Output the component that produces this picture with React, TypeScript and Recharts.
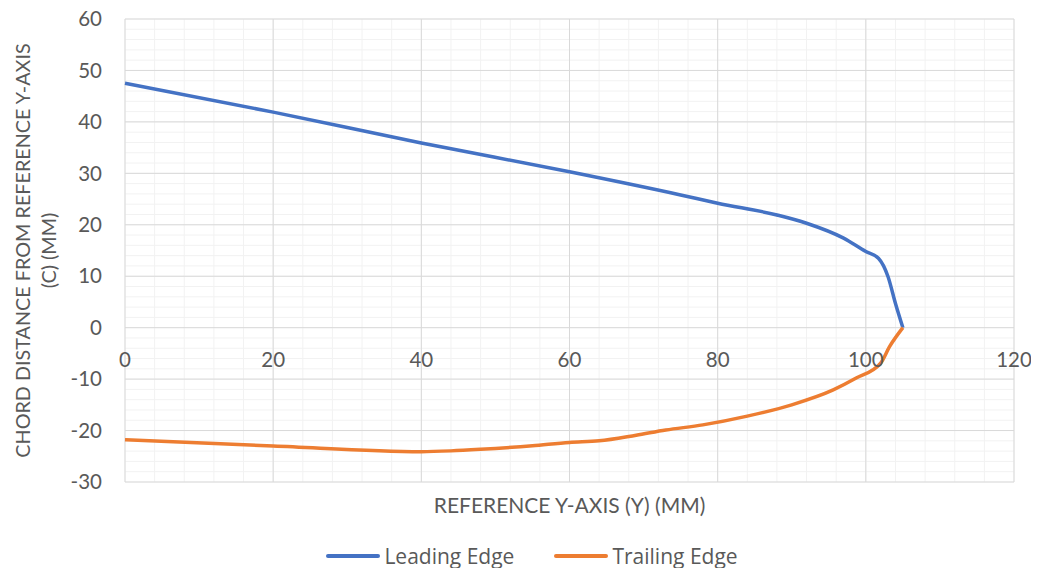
import React from "react";
import {
  LineChart,
  Line,
  XAxis,
  YAxis,
  CartesianGrid,
  Legend,
} from "recharts";

// Blade planform: chord position vs. span position (mm)
const leadingX = [0, 20, 40, 60, 75, 80, 88, 92, 97, 100, 101.7, 103, 104, 105];
const leadingY = [47.5, 41.9, 35.9, 30.3, 25.8, 24.2, 21.9, 20.3, 17.4, 14.8, 13.5, 9.9, 4.7, 0];

const trailingX = [0, 20, 40, 44, 48, 55, 60, 64, 69, 73, 78, 84, 90, 95.6, 98.7, 102, 103.2, 105];
const trailingY = [-21.8, -23.0, -24.1, -23.95, -23.65, -22.95, -22.3, -22.0, -20.9, -19.9, -18.9, -17.2, -15.0, -12.1, -9.8, -6.9, -3.7, 0];

const xTicks = [0, 20, 40, 60, 80, 100, 120];
const yTicks = [-30, -20, -10, 0, 10, 20, 30, 40, 50, 60];
const xMinor = Array.from({ length: 31 }, (_, i) => i * 4);
const yMinor = Array.from({ length: 46 }, (_, i) => -30 + i * 2);

const X_DOMAIN: [number, number] = [0, 120];
const Y_DOMAIN: [number, number] = [-30, 60];

const W = 1039;
const H = 576;
const MARGIN = { top: 19, right: 25, bottom: 0, left: 0 };
const LEGEND_H = 40;
const XAXIS_H = 54;
const PLOT_H = H - MARGIN.top - MARGIN.bottom - LEGEND_H - XAXIS_H;

const FONT = "Lato, 'Open Sans', sans-serif";
const LEGEND_FONT = "'Open Sans', Lato, sans-serif";
const TEXT = "#595959";
const FS = 20.5;

const leading = leadingX.map((x, i) => ({ x, y: leadingY[i] }));
const trailing = trailingX.map((x, i) => ({ x, y: trailingY[i] }));

const series = [
  { name: "Leading Edge", data: leading, color: "#4472C4" },
  { name: "Trailing Edge", data: trailing, color: "#ED7D31" },
];

// x tick labels sit just under the y = 0 line instead of the plot bottom
const zeroShift = (PLOT_H * (0 - Y_DOMAIN[0])) / (Y_DOMAIN[1] - Y_DOMAIN[0]);

function XTick(props: any) {
  const { x, y, payload } = props;
  return (
    <text
      x={x}
      y={y - zeroShift + 31}
      textAnchor="middle"
      fill={TEXT}
      fontSize={FS}
      fontFamily={FONT}
    >
      {payload.value}
    </text>
  );
}

function YTitle(props: any) {
  const { viewBox } = props;
  const cy = viewBox.y + viewBox.height / 2;
  return (
    <g fill={TEXT} fontSize={19.8} fontFamily={FONT} textAnchor="middle">
      <text transform={`translate(30, ${cy}) rotate(-90)`}>
        CHORD DISTANCE FROM REFERENCE Y-AXIS
      </text>
      <text transform={`translate(56, ${cy}) rotate(-90)`}>(C) (MM)</text>
    </g>
  );
}

function LegendBox() {
  return (
    <div
      style={{
        height: LEGEND_H,
        display: "flex",
        alignItems: "center",
        justifyContent: "center",
        gap: 40,
        paddingLeft: 50,
        fontFamily: LEGEND_FONT,
        fontSize: 21,
        color: TEXT,
      }}
    >
      {series.map((s) => (
        <div key={s.name} style={{ display: "flex", alignItems: "center" }}>
          <span
            style={{
              display: "inline-block",
              width: 54,
              height: 3.5,
              borderRadius: 2,
              background: s.color,
              marginRight: 4,
            }}
          />
          <span>{s.name}</span>
        </div>
      ))}
    </div>
  );
}

export default function App() {
  return (
    <div style={{ margin: -8, width: W, height: H, background: "#fff" }}>
      <LineChart width={W} height={H} margin={MARGIN}>
        <CartesianGrid
          horizontalValues={yMinor}
          verticalValues={xMinor}
          stroke="#f2f2f2"
          strokeWidth={1}
        />
        <CartesianGrid
          horizontalValues={yTicks}
          verticalValues={xTicks}
          stroke="#d9d9d9"
          strokeWidth={1}
        />
        <XAxis
          type="number"
          dataKey="x"
          domain={X_DOMAIN}
          ticks={xTicks}
          height={XAXIS_H}
          axisLine={false}
          tickLine={false}
          tick={<XTick />}
          interval={0}
          allowDuplicatedCategory={false}
          label={{
            value: "REFERENCE Y-AXIS (Y) (MM)",
            position: "bottom",
            offset: -38,
            fill: TEXT,
            fontSize: 21,
            fontFamily: FONT,
          }}
        />
        <YAxis
          type="number"
          domain={Y_DOMAIN}
          ticks={yTicks}
          width={125}
          axisLine={false}
          tickLine={false}
          tickSize={0}
          tickMargin={23}
          interval={0}
          tick={{ fill: TEXT, fontSize: FS, fontFamily: FONT }}
          label={<YTitle />}
        />
        <Legend verticalAlign="bottom" height={LEGEND_H} content={<LegendBox />} />
        {series.map((s) => (
          <Line
            key={s.name}
            name={s.name}
            data={s.data}
            dataKey="y"
            type="monotone"
            stroke={s.color}
            strokeWidth={3.5}
            dot={false}
            isAnimationActive={false}
          />
        ))}
      </LineChart>
    </div>
  );
}
